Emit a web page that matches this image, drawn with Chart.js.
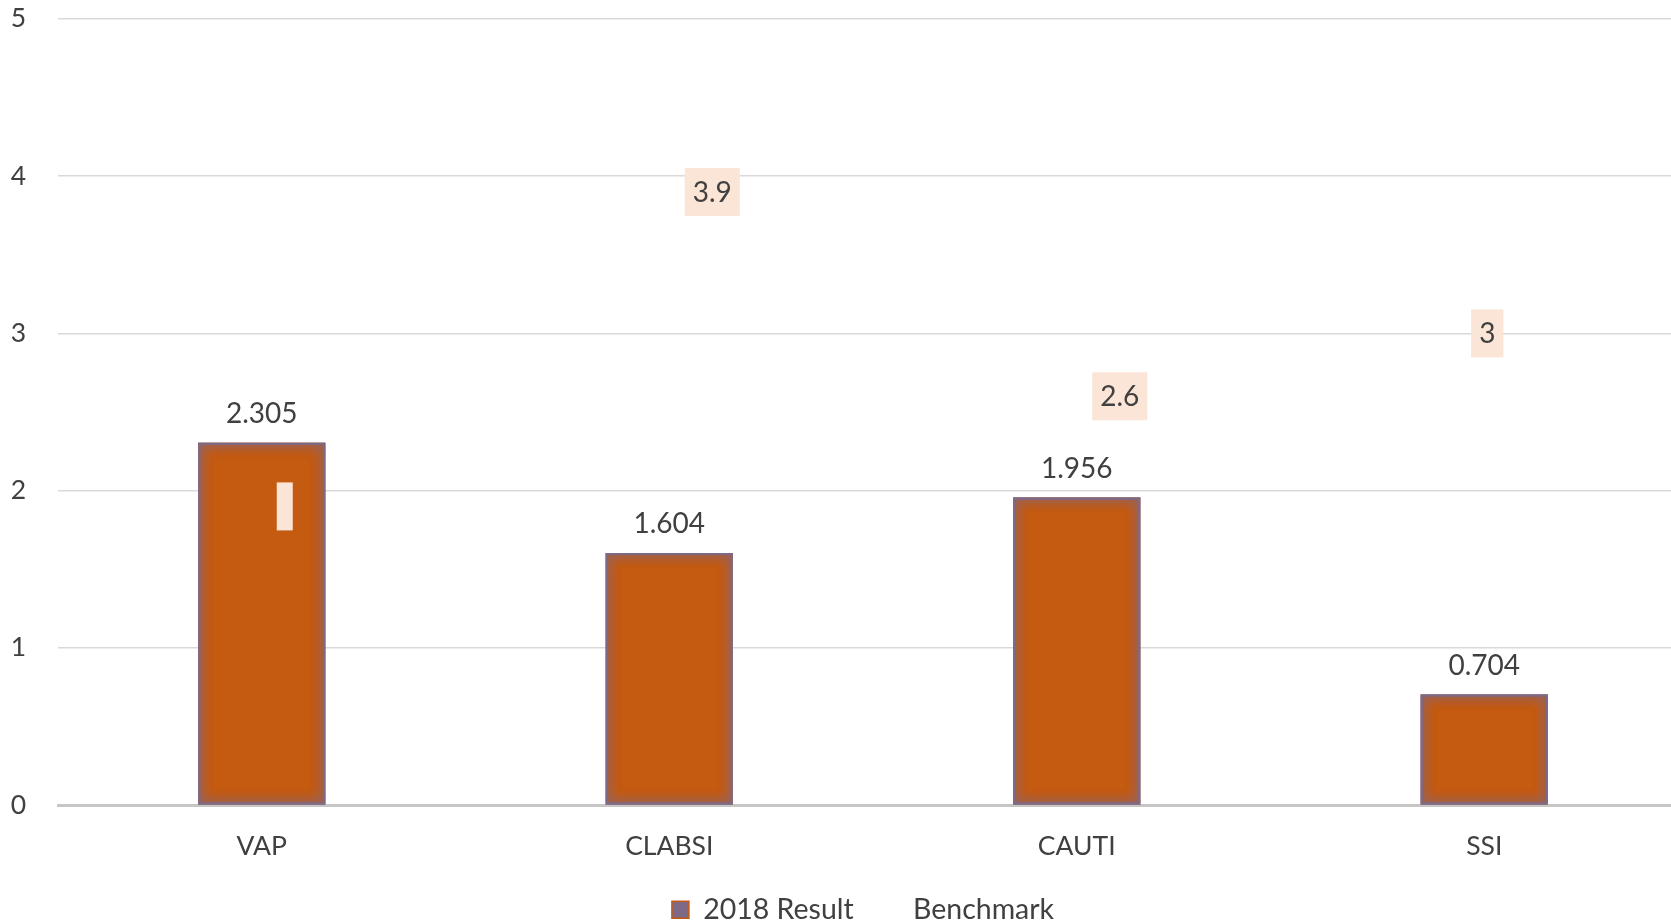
<!DOCTYPE html>
<html>
<head>
<meta charset="utf-8">
<script src="https://cdn.jsdelivr.net/npm/chart.js@4/dist/chart.umd.min.js"></script>
<style>
  html, body { margin: 0; padding: 0; background: #fff; overflow: hidden; }
  #wrap { width: 1726px; height: 963px; margin-top: -29px; }
</style>
</head>
<body>
<div id="wrap"><canvas id="chart"></canvas></div>
<script>
const categories = ["VAP", "CLABSI", "CAUTI", "SSI"];
const result2018 = [2.305, 1.604, 1.956, 0.704];
const benchmark = [1.9, 3.9, 2.6, 3];
const benchmarkText = ["", "3.9", "2.6", "3"];
const yTicks = [0, 1, 2, 3, 4, 5];

const FONT = "Lato, 'Open Sans', sans-serif";
const TEXT = "#404040";

// soft purple-grey edge inside each bar
const barGlow = {
  id: "barGlow",
  afterDatasetDraw(chart, args) {
    if (args.index !== 0) return;
    const ctx = chart.ctx;
    args.meta.data.forEach(bar => {
      const { x, y, base, width } = bar.getProps(["x", "y", "base", "width"], true);
      const l = x - width / 2, t = y, h = base - y;
      ctx.save();
      ctx.beginPath();
      ctx.rect(l, t, width, h);
      ctx.clip();
      ctx.strokeStyle = "rgba(125,105,135,0.9)";
      ctx.shadowColor = "rgba(125,105,135,1)";
      ctx.shadowBlur = 12;
      ctx.lineWidth = 4;
      ctx.strokeRect(l, t, width, h);
      ctx.strokeRect(l, t, width, h);
      ctx.restore();
    });
  }
};

// value labels: plain above bars, boxed for the benchmark points
const valueLabels = {
  id: "valueLabels",
  afterDatasetsDraw(chart, args, opts) {
    const ctx = chart.ctx;
    ctx.save();
    ctx.font = "28px " + FONT;
    ctx.textAlign = "center";
    ctx.textBaseline = "middle";

    chart.getDatasetMeta(0).data.forEach((bar, i) => {
      ctx.fillStyle = TEXT;
      ctx.fillText(String(result2018[i]), bar.x, bar.y - 29);
    });

    chart.getDatasetMeta(1).data.forEach((pt, i) => {
      const txt = benchmarkText[i];
      const cx = pt.x + opts.nudge[i];
      const w = ctx.measureText(txt).width + 16;
      const h = 48;
      ctx.fillStyle = "#FBE5D6";
      ctx.fillRect(cx - w / 2, pt.y - h / 2, w, h);
      ctx.fillStyle = TEXT;
      ctx.fillText(txt, cx, pt.y + 1);
    });
    ctx.restore();
  }
};

// the legend sits a little right of the plot's centre
const legendShift = {
  id: "legendShift",
  afterLayout(chart, args, opts) {
    chart.legend.left += opts.dx;
    chart.legend.right += opts.dx;
  }
};

new Chart(document.getElementById("chart"), {
  data: {
    labels: categories,
    datasets: [
      {
        type: "bar",
        label: "2018 Result",
        data: result2018,
        backgroundColor: "#C55A11",
        borderWidth: 0,
        barPercentage: 0.312,
        categoryPercentage: 1,
        order: 2
      },
      {
        type: "line",
        label: "Benchmark",
        data: benchmark,
        showLine: false,
        pointRadius: 0,
        pointHoverRadius: 0,
        borderColor: "rgba(0,0,0,0)",
        backgroundColor: "rgba(0,0,0,0)",
        order: 1
      }
    ]
  },
  options: {
    responsive: true,
    maintainAspectRatio: false,
    animation: false,
    events: [],
    layout: { padding: { top: 6, right: 38, left: 0, bottom: 0 } },
    plugins: {
      tooltip: { enabled: false },
      valueLabels: { nudge: [23, 43, 43, 3] },
      legendShift: { dx: 19 },
      legend: {
        position: "bottom",
        labels: {
          color: TEXT,
          font: { family: FONT, size: 28.5 },
          boxWidth: 17,
          boxHeight: 17,
          padding: 28,
          generateLabels(chart) {
            return chart.data.datasets.map((ds, i) => ({
              text: ds.label,
              fillStyle: i === 0 ? "#7E6A86" : "rgba(0,0,0,0)",
              strokeStyle: i === 0 ? "#C55A11" : "rgba(0,0,0,0)",
              lineWidth: i === 0 ? 1.5 : 0,
              fontColor: TEXT,
              datasetIndex: i
            }));
          }
        }
      }
    },
    scales: {
      x: {
        grid: { display: false },
        border: { display: true, color: "#c6c6c6", width: 3 },
        afterFit(axis) { axis.height -= 12.5; },
        ticks: { color: TEXT, font: { family: FONT, size: 26.5 }, padding: 17.5 }
      },
      y: {
        min: 0,
        max: 5,
        afterBuildTicks(axis) { axis.ticks = yTicks.map(v => ({ value: v })); },
        afterFit(axis) { axis.width = 58; },
        grid: { color: "#d9d9d9", lineWidth: 1.5, drawTicks: false },
        border: { display: false },
        ticks: { color: TEXT, font: { family: FONT, size: 26.5 }, padding: 32 }
      }
    }
  },
  plugins: [barGlow, valueLabels, legendShift]
});
</script>
</body>
</html>
